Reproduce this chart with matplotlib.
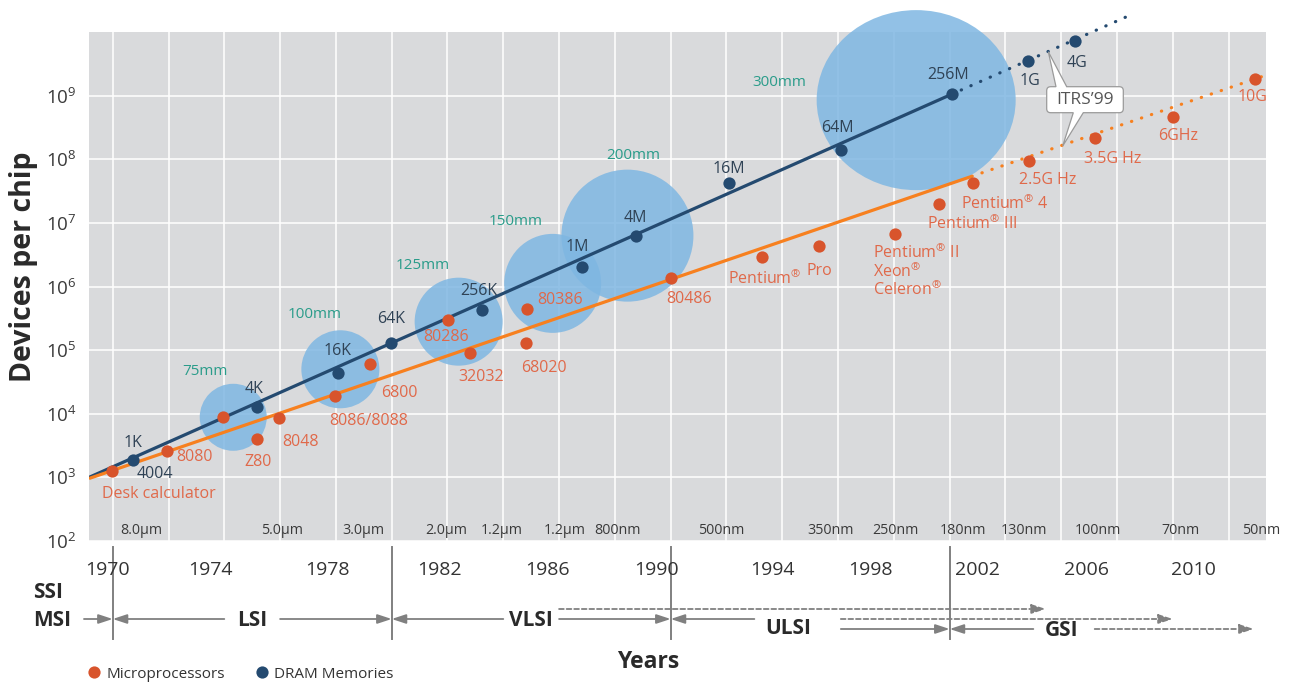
import matplotlib.pyplot as plt
import matplotlib.transforms as mtransforms
from matplotlib.patches import Ellipse, PathPatch
from matplotlib.path import Path
from matplotlib.lines import Line2D

plt.rcParams['font.family'] = ['Open Sans', 'DejaVu Sans']
plt.rcParams['mathtext.default'] = 'regular'

# ---- data ----
dram_labels = ['1K', '4K', '16K', '64K', '256K', '1M', '4M', '16M', '64M', '256M', '1G', '4G']
dram_years = [1970.74, 1975.16, 1978.09, 1979.97, 1983.23, 1986.83, 1988.76,
              1992.10, 1996.09, 2000.07, 2002.82, 2004.49]
dram_devices = [1.86e3, 1.29e4, 4.3e4, 1.29e5, 4.3e5, 2.04e6, 6.3e6,
                4.27e7, 1.38e8, 1.05e9, 3.47e9, 7.1e9]

micro_labels = ['Desk calculator', '8080', '', 'Z80', '8048', '8086/8088', '6800',
                '80286', '32032', '80386', '68020', '80486', 'Pentium$^{®}$', 'Pro',
                'Pentium$^{®}$ II\nXeon$^{®}$\nCeleron$^{®}$', 'Pentium$^{®}$ III',
                'Pentium$^{®}$ 4', '2.5G Hz', '3.5G Hz', '6GHz', '10G']
micro_years = [1969.96, 1971.96, 1973.96, 1975.16, 1975.97, 1977.97, 1979.21,
               1982.01, 1982.81, 1984.84, 1984.80, 1990.0, 1993.28, 1995.33,
               1998.05, 1999.63, 2000.85, 2002.83, 2005.22, 2008.01, 2010.95]
micro_devices = [1.27e3, 2.63e3, 8.9e3, 3.98e3, 8.5e3, 1.9e4, 6.0e4,
                 2.95e5, 8.9e4, 4.47e5, 1.29e5, 1.35e6, 2.95e6, 4.37e6,
                 6.6e6, 2.0e7, 4.27e7, 9.55e7, 2.14e8, 4.57e8, 1.82e9]

# trend lines: start, end of solid part, end of dotted (ITRS'99) part
dram_trend_years = [1969.15, 2000.07, 2006.6]
dram_trend_devices = [1.0e3, 1.05e9, 1.95e10]
micro_trend_years = [1969.15, 2000.8, 2011.4]
micro_trend_devices = [9.6e2, 5.4e7, 2.14e9]

wafer_labels = ['75mm', '100mm', '125mm', '150mm', '200mm', '300mm']
wafer_years = [1974.32, 1978.16, 1982.40, 1985.77, 1988.45, 1998.80]
wafer_devices = [8.8e3, 5.0e4, 2.8e5, 1.12e6, 6.3e6, 8.5e8]

feature_labels = ['8.0μm', '5.0μm', '3.0μm', '2.0μm', '1.2μm', '1.2μm', '800nm', '500nm',
                  '350nm', '250nm', '180nm', '130nm', '100nm', '70nm', '50nm']
feature_years = [1971.04, 1976.08, 1978.99, 1981.97, 1983.96, 1986.19, 1988.08, 1991.80,
                 1995.73, 1998.06, 2000.48, 2002.65, 2005.32, 2008.28, 2011.16]

year_labels = ['1970', '1974', '1978', '1982', '1986', '1990', '1994', '1998', '2002', '2006', '2010']
year_label_pos = [1969.8, 1973.5, 1977.7, 1981.7, 1985.6, 1989.5, 1993.65, 1997.15, 2001.0, 2004.9, 2008.75]

era_bounds = [1970, 1980, 1990, 2000]

# ---- styling ----
W, H = 1290, 684
bg = '#d9dadc'
dram_c = '#244a70'
dram_txt = '#2f4255'
micro_c = '#d8542c'
micro_txt = '#e0694a'
orange = '#f7801f'
teal = '#2a9c8a'
bubble_c = '#7fb7e2'
grey = '#808080'
dark = '#2a2a2a'

# label offsets in pixels (dx, dy up)
dram_off = [(0, 17), (-3, 18), (-1, 22), (0, 24), (-3, 19), (-5, 20), (-1, 18),
            (0, 14), (-3, 22), (-3, 19), (2, -20), (2, -22)]
micro_off = [(47, -23), (27, -6), (0, 0), (1, -23), (21, -24), (34, -25), (30, -29),
             (-2, -17), (11, -24), (33, 9), (18, -25), (18, -21), (3, -22), (0, -25),
             (-22, -37), (33, -20), (32, -21), (19, -19), (17, -21), (5, -19), (-3, -18)]
bubble_w = [67, 78, 88, 97, 132, 199]
bubble_h = [67, 78, 88, 99, 132, 180]
wafer_off = [(-28, 46), (-26, 55), (-36, 56), (-37, 62), (6, 80), (-137, 18)]

fig = plt.figure(figsize=(W / 100, H / 100), dpi=100)
ax = fig.add_axes([89 / W, 1 - 541 / H, (1266 - 89) / W, (541 - 32) / H])
ax.set_facecolor(bg)
ax.set_yscale('log')
ax.set_xlim(1969.15, 2011.34)
ax.set_ylim(1e2, 1e10)
for s in ax.spines.values():
    s.set_visible(False)
ax.set_xticks(range(1970, 2012, 2))
ax.set_xticklabels([])
ax.set_yticks([10 ** n for n in range(2, 10)],
              labels=['$10^{%d}$' % n for n in range(2, 10)])
ax.yaxis.set_minor_locator(plt.NullLocator())
ax.tick_params(length=0, pad=9, labelsize=13.5, labelcolor='#3a3a3a')
ax.set_axisbelow(True)
ax.grid(True, color='white', lw=1.1)

# wafer bubbles (drawn as circles in screen space)
for x, y, w, h, lab, (dx, dy) in zip(wafer_years, wafer_devices, bubble_w, bubble_h,
                                     wafer_labels, wafer_off):
    tr = fig.dpi_scale_trans + mtransforms.ScaledTranslation(x, y, ax.transData)
    e = Ellipse((0, 0), w / 100, h / 100, transform=tr, facecolor=bubble_c,
                edgecolor='none', alpha=0.85, zorder=1, clip_on=False)
    ax.add_patch(e)
    ax.annotate(lab, (x, y), xytext=(dx, dy), textcoords='offset pixels',
                ha='center', va='center', color=teal, fontsize=11, zorder=5)

# trend lines
ax.plot(dram_trend_years[:2], dram_trend_devices[:2], color=dram_c, lw=2.3, zorder=2,
        solid_capstyle='butt')
ax.plot(dram_trend_years[1:], dram_trend_devices[1:], color=dram_c, lw=2.3, zorder=2,
        linestyle=(0, (0.1, 3.2)), dash_capstyle='round', clip_on=False)
ax.plot(micro_trend_years[:2], micro_trend_devices[:2], color=orange, lw=2.3, zorder=2,
        solid_capstyle='butt')
ax.plot(micro_trend_years[1:], micro_trend_devices[1:], color=orange, lw=2.3, zorder=2,
        linestyle=(0, (0.1, 3.2)), dash_capstyle='round', clip_on=False)

# points
ax.scatter(micro_years, micro_devices, s=78, color=micro_c, zorder=3, linewidths=0)
ax.scatter(dram_years, dram_devices, s=78, color=dram_c, zorder=3, linewidths=0, clip_on=False)

for x, y, lab, (dx, dy) in zip(dram_years, dram_devices, dram_labels, dram_off):
    ax.annotate(lab, (x, y), xytext=(dx, dy), textcoords='offset pixels',
                ha='center', va='center', color=dram_txt, fontsize=11.5, zorder=5)
ax.annotate('4004', (dram_years[0], dram_devices[0]), xytext=(22, -14),
            textcoords='offset pixels', ha='center', va='center', color=dram_txt,
            fontsize=11.5, zorder=5)
for x, y, lab, (dx, dy) in zip(micro_years, micro_devices, micro_labels, micro_off):
    if not lab:
        continue
    multi = '\n' in lab
    ax.annotate(lab, (x, y), xytext=(dx, dy), textcoords='offset pixels',
                ha='left' if multi else 'center', va='center', color=micro_txt,
                fontsize=11.5, zorder=5, linespacing=1.0)

# ITRS'99 callout
def P(x, y):
    return (x, H - y)

L, R, T, B, r = 1046.7, 1123.3, 86.7, 112.7, 4
verts = [P(L + r, T), P(1056, T), P(1048.3, 51.7), P(1066.7, T), P(R - r, T),
         P(R, T), P(R, T + r), P(R, B - r), P(R, B), P(R - r, B),
         P(1083.3, B), P(1062.7, 146), P(1073.3, B), P(L + r, B),
         P(L, B), P(L, B - r), P(L, T + r), P(L, T), P(L + r, T)]
codes = [Path.MOVETO, Path.LINETO, Path.LINETO, Path.LINETO, Path.LINETO,
         Path.CURVE3, Path.CURVE3, Path.LINETO, Path.CURVE3, Path.CURVE3,
         Path.LINETO, Path.LINETO, Path.LINETO, Path.LINETO,
         Path.CURVE3, Path.CURVE3, Path.LINETO, Path.CURVE3, Path.CURVE3]
callout = PathPatch(Path(verts, codes), transform=mtransforms.IdentityTransform(),
                    facecolor='white', edgecolor='#9a9a9a', lw=0.9, zorder=6)
fig.add_artist(callout)
fig.text((L + R) / 2 / W, 1 - (T + B) / 2 / H, 'ITRS’99', ha='center', va='center',
         fontsize=12.5, color='#555555', zorder=7)

# feature size row inside the plot
bt = mtransforms.blended_transform_factory(ax.transData, mtransforms.IdentityTransform())
for x, lab in zip(feature_years, feature_labels):
    ax.text(x, H - 530, lab, transform=bt, ha='center', va='center', fontsize=10.3,
            color='#3a3a3a', zorder=5)

# years row
for x, lab in zip(year_label_pos, year_labels):
    ax.text(x, H - 570, lab, transform=bt, ha='center', va='center', fontsize=14,
            color='#333333')

# era separators
for x in era_bounds:
    ax.plot([x, x], [H - 547, H - 639], transform=bt, color=grey, lw=1.4, clip_on=False)

# era arrows (from, to, row y, dashed)
era_arrows = [(1968.97, 1970, 619, False), (1974.0, 1970, 619, False),
              (1976.0, 1980, 619, False), (1984.0, 1980, 619, False),
              (1986.0, 1990, 619, False), (1986.0, 2003.45, 609, True),
              (1993.0, 1990, 619, False), (1996.1, 2000, 629, False),
              (1996.1, 2008.0, 619, True), (2003.0, 2000, 629, False),
              (2005.2, 2010.9, 629, True)]
for x0, x1, y, dashed in era_arrows:
    ax.annotate('', xy=(x1, H - y), xycoords=bt, xytext=(x0, H - y), textcoords=bt,
                arrowprops=dict(arrowstyle='-|>,head_length=0.85,head_width=0.28',
                                color=grey, lw=1.3, shrinkA=0, shrinkB=0,
                                mutation_scale=10,
                                linestyle=(0, (2.6, 1.6)) if dashed else '-'))

era_names = ['LSI', 'VLSI', 'ULSI', 'GSI']
era_x = [1975.0, 1985.0, 1994.2, 2004.0]
era_y = [621, 621, 628, 631]
for x, y, lab in zip(era_x, era_y, era_names):
    ax.text(x, H - y, lab, transform=bt, ha='center', va='center', fontsize=15,
            fontweight='bold', color=dark)
fig.text(33 / W, 1 - 593 / H, 'SSI', ha='left', va='center', fontsize=15,
         fontweight='bold', color=dark)
fig.text(33 / W, 1 - 621 / H, 'MSI', ha='left', va='center', fontsize=15,
         fontweight='bold', color=dark)

fig.text(648 / W, 1 - 662 / H, 'Years', ha='center', va='center', fontsize=16.5,
         fontweight='bold', color=dark)
fig.text(24 / W, 1 - 267 / H, 'Devices per chip', ha='center', va='center',
         rotation=90, fontsize=20.5, fontweight='bold', color=dark)

# legend
handles = [Line2D([], [], ls='', marker='o', markersize=8.8, color=micro_c, mec='none'),
           Line2D([], [], ls='', marker='o', markersize=8.8, color=dram_c, mec='none')]
fig.legend(handles, ['Microprocessors', 'DRAM Memories'], loc='center left',
           bbox_to_anchor=(87 / W, 1 - 674 / H), ncol=2, frameon=False,
           borderpad=0, borderaxespad=0, handlelength=0.9, handletextpad=0.35,
           columnspacing=2.0, fontsize=11, labelcolor='#333333')

fig.savefig('out.png', dpi=100)
